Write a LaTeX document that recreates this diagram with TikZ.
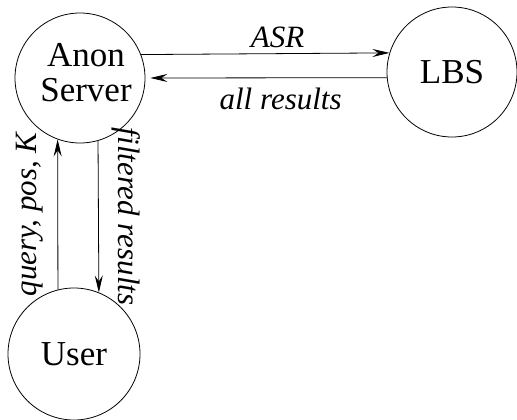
\documentclass[tikz,border=0pt]{standalone}
\usepackage{fontspec}
\setmainfont{Liberation Serif}
\usetikzlibrary{arrows.meta}
\begin{document}
\begin{tikzpicture}[x=1pt,y=1pt,
  state/.style={draw, circle, line width=0.8pt, minimum size=130pt, inner sep=0pt,
    font=\fontsize{35}{35}\selectfont, align=center},
  conn/.style={line width=0.8pt, -{Stealth[length=17pt,width=8pt,inset=6pt]}},
  lab/.style={font=\fontsize{31}{31}\selectfont\itshape, inner sep=0pt}]
\useasboundingbox (0,0) rectangle (517,-420);
\node[state] (anon) at (80,-78) {\hspace*{12pt}Anon\\\hspace*{12pt}Server\rule[-11pt]{0pt}{0pt}};
\node[state] (lbs) at (452,-72) {LBS};
\node[state, minimum size=132pt] (user) at (74,-354) {User};
\draw[conn] (anon.21.7) -- node[lab, pos=0.55, anchor=south, inner sep=5pt] {ASR} (lbs.163.9);
\draw[conn, shorten >=5pt] (lbs.185.3) -- node[lab, pos=0.44, anchor=north, inner sep=10pt] {all results} (anon.0);
\draw[conn] (user.104) -- node[lab, midway, rotate=90, anchor=south, inner sep=14pt] {query, pos, K} (anon.250.2);
\draw[conn] (anon.286.1) -- node[lab, midway, rotate=-90, anchor=south, inner sep=13pt] {filtered results} (user.68.7);
\end{tikzpicture}
\end{document}
